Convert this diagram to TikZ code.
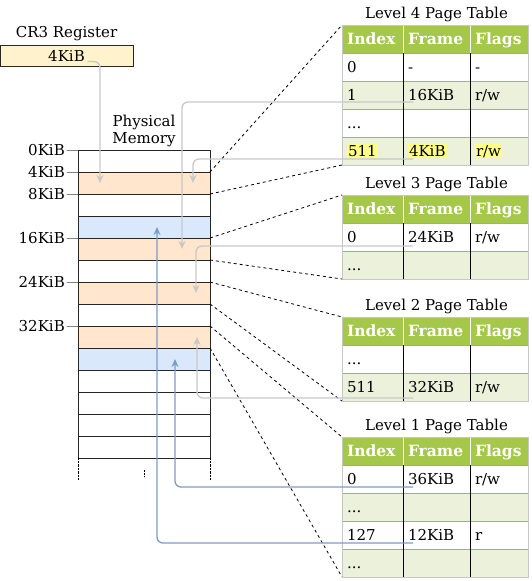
\documentclass[tikz,border=0pt]{standalone}
\usepackage{fontspec}
\setmainfont{DejaVu Serif}
\usepackage{tikz}
\usetikzlibrary{positioning,shapes,arrows,arrows.meta}

\definecolor{memfill}{HTML}{FFE6CC}
\definecolor{markfill}{HTML}{DAE8FC}
\definecolor{regfill}{HTML}{FFF2CC}
\definecolor{hdrgreen}{HTML}{A5C84A}
\definecolor{rowgreen}{HTML}{EBF1DA}
\definecolor{linegreen}{HTML}{9CBF3B}
\definecolor{hilite}{HTML}{FFFF88}
\definecolor{linkgray}{HTML}{C8C8C8}
\definecolor{linkblue}{HTML}{7C9CCB}

\newcommand{\marktext}[1]{{\setlength{\fboxsep}{1pt}\colorbox{hilite}{#1}}}

\tikzstyle{frame} = [rectangle, draw=black!85, minimum width=132pt, minimum height=22pt, inner sep=0pt, outer sep=0pt]
\tikzstyle{used} = [frame, fill=memfill]
\tikzstyle{marked} = [frame, fill=markfill]
\tikzstyle{reg} = [rectangle, draw=black!85, fill=regfill, minimum width=133pt, minimum height=21pt, inner sep=0pt]
\tikzstyle{addr} = [inner sep=2pt]
\tikzstyle{tick} = [draw=gray]
\tikzstyle{cell} = [rectangle, draw=linegreen, inner xsep=5pt, inner ysep=0pt, outer sep=0pt, align=left, text height=13pt, text depth=3pt, minimum height=28pt]
\tikzstyle{idx} = [cell, text width=51pt]
\tikzstyle{frm} = [cell, text width=57pt]
\tikzstyle{flg} = [cell, text width=48pt]
\tikzstyle{hdr} = [fill=hdrgreen, text=white, font=\fontsize{15.5}{17}\selectfont\bfseries]
\tikzstyle{plainrow} = [fill=white]
\tikzstyle{greenrow} = [fill=rowgreen]
\tikzstyle{colsep} = [draw=black, line width=0.8pt]
\tikzstyle{hdrsep} = [draw=white, line width=0.8pt]
\tikzstyle{tabedge} = [draw=black!22, line width=1pt]
\tikzstyle{span} = [dashed, black, line width=0.8pt]
\tikzstyle{walk} = [draw=linkgray, line width=1.3pt, rounded corners=6pt, -{Stealth[length=8pt,width=7pt]}]
\tikzstyle{hit} = [walk, draw=linkblue]

\begin{document}
\begin{tikzpicture}[x=1pt, y=-1pt, font=\fontsize{15}{17}\selectfont]
	\useasboundingbox (0,0) rectangle (531,581);

	% CR3
	\node (cr3) [reg] at (66.5,55.5) {4KiB};
	\node (cr3name) [above=0pt of cr3] {CR3 Register};

	% physical memory frames
	\node (m0) [frame] at (144,161) {};
	\node (m1) [used,below=0pt of m0] {};
	\node (m2) [frame,below=0pt of m1] {};
	\node (m3) [marked,below=0pt of m2] {};
	\node (m4) [used,below=0pt of m3] {};
	\node (m5) [frame,below=0pt of m4] {};
	\node (m6) [used,below=0pt of m5] {};
	\node (m7) [frame,below=0pt of m6] {};
	\node (m8) [used,below=0pt of m7] {};
	\node (m9) [marked,below=0pt of m8] {};
	\node (m10) [frame,below=0pt of m9] {};
	\node (m11) [frame,below=0pt of m10] {};
	\node (m12) [frame,below=0pt of m11] {};
	\node (m13) [frame,below=0pt of m12] {};
	\node (mem) [above=0pt of m0, align=center] {Physical\\Memory};

	\draw [densely dotted] (m13.south west) -- ++(0,22);
	\draw [densely dotted] (m13.south east) -- ++(0,22);
	\draw [densely dotted] ([yshift=-12pt]m13.south) -- ++(0,7);

	% addresses
	\node (a0) [addr,left=11pt of m0.north west] {0KiB};
	\node (a4) [addr,left=11pt of m1.north west] {4KiB};
	\node (a8) [addr,left=11pt of m2.north west] {8KiB};
	\node (a16) [addr,left=11pt of m4.north west] {16KiB};
	\node (a24) [addr,left=11pt of m6.north west] {24KiB};
	\node (a32) [addr,left=11pt of m8.north west] {32KiB};
	\draw [tick] (a0.east) -- (m0.north west);
	\draw [tick] (a4.east) -- (m1.north west);
	\draw [tick] (a8.east) -- (m2.north west);
	\draw [tick] (a16.east) -- (m4.north west);
	\draw [tick] (a24.east) -- (m6.north west);
	\draw [tick] (a32.east) -- (m8.north west);

	% level 4
	\node (t4i0) [idx,hdr,anchor=north west] at (342,25) {Index};
	\node (t4f0) [frm,hdr,right=0pt of t4i0] {Frame};
	\node (t4g0) [flg,hdr,right=0pt of t4f0] {Flags};
	\node (t4i1) [idx,plainrow,below=0pt of t4i0] {0};
	\node (t4f1) [frm,plainrow,right=0pt of t4i1] {-};
	\node (t4g1) [flg,plainrow,right=0pt of t4f1] {-};
	\node (t4i2) [idx,greenrow,below=0pt of t4i1] {1};
	\node (t4f2) [frm,greenrow,right=0pt of t4i2] {16KiB};
	\node (t4g2) [flg,greenrow,right=0pt of t4f2] {r/w};
	\node (t4i3) [idx,plainrow,below=0pt of t4i2] {...};
	\node (t4f3) [frm,plainrow,right=0pt of t4i3] {};
	\node (t4g3) [flg,plainrow,right=0pt of t4f3] {};
	\node (t4i4) [idx,greenrow,below=0pt of t4i3] {\marktext{511}};
	\node (t4f4) [frm,greenrow,right=0pt of t4i4] {\marktext{4KiB}};
	\node (t4g4) [flg,greenrow,right=0pt of t4f4] {\marktext{r/w}};
	\node (t4name) [above=0pt of t4f0] {Level 4 Page Table};
	\draw [colsep] (t4f1.north west) -- (t4f4.south west);
	\draw [colsep] (t4g1.north west) -- (t4g4.south west);
	\draw [hdrsep] (t4f0.north west) -- (t4f0.south west);
	\draw [hdrsep] (t4g0.north west) -- (t4g0.south west);
	\draw [tabedge] (t4i0.north west) rectangle (t4g4.south east);

	% level 3
	\begin{scope}[every node/.append style={minimum height=30pt}]
	\node (t3i0) [idx,hdr,anchor=north west] at (342,195) {Index};
	\node (t3f0) [frm,hdr,right=0pt of t3i0] {Frame};
	\node (t3g0) [flg,hdr,right=0pt of t3f0] {Flags};
	\node (t3i1) [idx,plainrow,below=0pt of t3i0] {0};
	\node (t3f1) [frm,plainrow,right=0pt of t3i1] {24KiB};
	\node (t3g1) [flg,plainrow,right=0pt of t3f1] {r/w};
	\node (t3i2) [idx,greenrow,below=0pt of t3i1] {...};
	\node (t3f2) [frm,greenrow,right=0pt of t3i2] {};
	\node (t3g2) [flg,greenrow,right=0pt of t3f2] {};
	\end{scope}
	\node (t3name) [above=0pt of t3f0] {Level 3 Page Table};
	\draw [colsep] (t3f1.north west) -- (t3f2.south west);
	\draw [colsep] (t3g1.north west) -- (t3g2.south west);
	\draw [hdrsep] (t3f0.north west) -- (t3f0.south west);
	\draw [hdrsep] (t3g0.north west) -- (t3g0.south west);
	\draw [tabedge] (t3i0.north west) rectangle (t3g2.south east);

	% level 2
	\begin{scope}[every node/.append style={minimum height=30pt}]
	\node (t2i0) [idx,hdr,anchor=north west] at (342,317) {Index};
	\node (t2f0) [frm,hdr,right=0pt of t2i0] {Frame};
	\node (t2g0) [flg,hdr,right=0pt of t2f0] {Flags};
	\node (t2i1) [idx,plainrow,below=0pt of t2i0] {...};
	\node (t2f1) [frm,plainrow,right=0pt of t2i1] {};
	\node (t2g1) [flg,plainrow,right=0pt of t2f1] {};
	\node (t2i2) [idx,greenrow,below=0pt of t2i1] {511};
	\node (t2f2) [frm,greenrow,right=0pt of t2i2] {32KiB};
	\node (t2g2) [flg,greenrow,right=0pt of t2f2] {r/w};
	\end{scope}
	\node (t2name) [above=0pt of t2f0] {Level 2 Page Table};
	\draw [colsep] (t2f1.north west) -- (t2f2.south west);
	\draw [colsep] (t2g1.north west) -- (t2g2.south west);
	\draw [hdrsep] (t2f0.north west) -- (t2f0.south west);
	\draw [hdrsep] (t2g0.north west) -- (t2g0.south west);
	\draw [tabedge] (t2i0.north west) rectangle (t2g2.south east);

	% level 1
	\node (t1i0) [idx,hdr,anchor=north west] at (342,437) {Index};
	\node (t1f0) [frm,hdr,right=0pt of t1i0] {Frame};
	\node (t1g0) [flg,hdr,right=0pt of t1f0] {Flags};
	\node (t1i1) [idx,plainrow,below=0pt of t1i0] {0};
	\node (t1f1) [frm,plainrow,right=0pt of t1i1] {36KiB};
	\node (t1g1) [flg,plainrow,right=0pt of t1f1] {r/w};
	\node (t1i2) [idx,greenrow,below=0pt of t1i1] {...};
	\node (t1f2) [frm,greenrow,right=0pt of t1i2] {};
	\node (t1g2) [flg,greenrow,right=0pt of t1f2] {};
	\node (t1i3) [idx,plainrow,below=0pt of t1i2] {127};
	\node (t1f3) [frm,plainrow,right=0pt of t1i3] {12KiB};
	\node (t1g3) [flg,plainrow,right=0pt of t1f3] {r};
	\node (t1i4) [idx,greenrow,below=0pt of t1i3] {...};
	\node (t1f4) [frm,greenrow,right=0pt of t1i4] {};
	\node (t1g4) [flg,greenrow,right=0pt of t1f4] {};
	\node (t1name) [above=0pt of t1f0] {Level 1 Page Table};
	\draw [colsep] (t1f1.north west) -- (t1f4.south west);
	\draw [colsep] (t1g1.north west) -- (t1g4.south west);
	\draw [hdrsep] (t1f0.north west) -- (t1f0.south west);
	\draw [hdrsep] (t1g0.north west) -- (t1g0.south west);
	\draw [tabedge] (t1i0.north west) rectangle (t1g4.south east);

	% table spans
	\draw [span] (m1.north east) -- (t4i0.north west);
	\draw [span] (m1.south east) -- (t4i4.south west);
	\draw [span] (m4.north east) -- (t3i0.north west);
	\draw [span] (m4.south east) -- (t3i2.south west);
	\draw [span] (m6.north east) -- (t2i0.north west);
	\draw [span] (m6.south east) -- (t2i2.south west);
	\draw [span] (m8.north east) -- (t1i0.north west);
	\draw [span] (m8.south east) -- (t1i4.south west);

	% walk
	\draw [walk] ([xshift=21pt,yshift=-6pt]cr3.center) -| ([xshift=-44pt]m1.center);
	\draw [walk] ([xshift=10pt,yshift=-7pt]t4f2.west) -| ([xshift=38pt]m4.center);
	\draw [walk] ([xshift=10pt,yshift=-8pt]t4f4.west) -| ([xshift=49pt]m1.center);
	\draw [walk] ([xshift=10pt,yshift=-9pt]t3f1.west) -| ([xshift=52pt]m6.center);
	\draw [walk] ([xshift=10pt,yshift=-11pt]t2f2.west) -| ([xshift=53pt]m8.center);
	\draw [hit] ([xshift=10pt,yshift=-8pt]t1f1.west) -| ([xshift=31pt]m9.center);
	\draw [hit] ([xshift=10pt,yshift=-8pt]t1f3.west) -| ([xshift=13pt]m3.center);
\end{tikzpicture}
\end{document}
